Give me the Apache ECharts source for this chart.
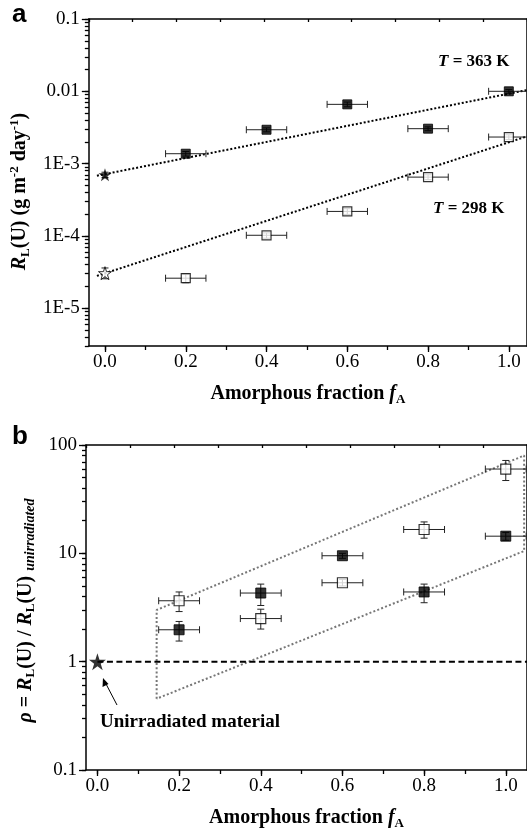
<!DOCTYPE html>
<html><head><meta charset="utf-8">
<script src="https://cdn.jsdelivr.net/npm/echarts@6/dist/echarts.min.js"></script>
<style>html,body{margin:0;padding:0;background:#fff}#c{width:527px;height:831px}</style>
</head><body><div id="c"></div><script>
// ---------- data ----------
const fracA = [0.2, 0.4, 0.6, 0.8, 1.0];
const xErr = 0.05;
// panel a : leaching rate R_L(U)
const rate363 = [1.37e-3, 2.94e-3, 6.6e-3, 3.04e-3, 1.0e-2];
const rate363Lo = [1.27e-3, 2.75e-3, 6.1e-3, 2.85e-3, 0.94e-2];
const rate363Hi = [1.47e-3, 3.12e-3, 7.1e-3, 3.22e-3, 1.06e-2];
const rate298 = [2.6e-5, 1.02e-4, 2.18e-4, 6.5e-4, 2.33e-3];
const rate298Lo = [2.25e-5, 0.93e-4, 1.98e-4, 6.0e-4, 2.15e-3];
const rate298Hi = [2.95e-5, 1.1e-4, 2.38e-4, 7.0e-4, 2.5e-3];
const unirr363 = 7.0e-4, unirr363Lo = 6.4e-4, unirr363Hi = 7.6e-4;
const unirr298 = 3.05e-5, unirr298Lo = 2.55e-5, unirr298Hi = 3.6e-5;
const fit363X = [-0.02, 1.045], fit363Y = [6.8e-4, 1.04e-2];
const fit298X = [-0.02, 1.045], fit298Y = [2.8e-5, 2.38e-3];
const aTickLabels = ['1E-5', '1E-4', '1E-3', '0.01', '0.1'];
const aTickValues = [1e-5, 1e-4, 1e-3, 1e-2, 1e-1];
// panel b : rho
const rhoOpen = [3.65, 2.5, 5.35, 16.6, 60];
const rhoOpenLo = [2.9, 2.0, 5.0, 13.8, 47];
const rhoOpenHi = [4.4, 3.05, 5.75, 19.5, 72];
const rhoFilled = [1.97, 4.3, 9.5, 4.4, 14.4];
const rhoFilledLo = [1.55, 3.3, 9.0, 3.5, 13.2];
const rhoFilledHi = [2.35, 5.2, 10.0, 5.2, 15.6];
const envX = [0.145, 0.145, 1.045, 1.045, 0.145];
const envY = [0.455, 3.0, 80, 10.5, 0.455];
const refX = [0, 1.06], refY = [1, 1];
const bTickLabels = ['0.1', '1', '10', '100'];
const bTickValues = [0.1, 1, 10, 100];
const xTickValues = [0, 0.2, 0.4, 0.6, 0.8, 1.0];
const xAllTicks = [0, 0.1, 0.2, 0.3, 0.4, 0.5, 0.6, 0.7, 0.8, 0.9, 1.0];
const topTicks = [0, 0.1, 0.2, 0.3, 0.4, 0.5, 0.6, 0.7, 0.8, 0.9, 1.0];

// ---------- helpers ----------
const L = Math.log10;
const serif = 'Liberation Serif';
function logTicks(lo, hi) {
  const out = [];
  for (let d = Math.floor(L(lo)); d <= Math.ceil(L(hi)); d++) {
    for (let m = 1; m <= 9; m++) {
      const v = m * Math.pow(10, d);
      if (v >= lo * 0.9999 && v <= hi * 1.0001) out.push(L(v));
    }
  }
  return out;
}
function errRender(params, api) {
  const x = api.value(0), y = api.value(1);
  const xl = api.value(2), xh = api.value(3), yl = api.value(4), yh = api.value(5);
  const st = { stroke: '#222', lineWidth: 1 };
  const ch = [];
  const cap = 3.5;
  if (xl !== xh) {
    const a = api.coord([xl, y]), b = api.coord([xh, y]);
    ch.push({ type: 'line', shape: { x1: a[0], y1: a[1], x2: b[0], y2: b[1] }, style: st });
    ch.push({ type: 'line', shape: { x1: a[0], y1: a[1] - cap, x2: a[0], y2: a[1] + cap }, style: st });
    ch.push({ type: 'line', shape: { x1: b[0], y1: b[1] - cap, x2: b[0], y2: b[1] + cap }, style: st });
  }
  if (yl !== yh) {
    const a = api.coord([x, yl]), b = api.coord([x, yh]);
    ch.push({ type: 'line', shape: { x1: a[0], y1: a[1], x2: b[0], y2: b[1] }, style: st });
    ch.push({ type: 'line', shape: { x1: a[0] - cap, y1: a[1], x2: a[0] + cap, y2: a[1] }, style: st });
    ch.push({ type: 'line', shape: { x1: b[0] - cap, y1: b[1], x2: b[0] + cap, y2: b[1] }, style: st });
  }
  return { type: 'group', children: ch };
}
function errData(xs, ys, lo, hi, xe) {
  return xs.map((x, i) => [x, L(ys[i]), x - xe, x + xe, L(lo[i]), L(hi[i])]);
}
const pts = (xs, ys) => xs.map((x, i) => [x, L(ys[i])]);

const aYMin = L(3e-6), aYMax = L(0.1);
const bYMin = L(0.1), bYMax = L(100);

const labelStyle = { fontFamily: serif, fontSize: 19, color: '#000' };
const richBase = {
  n: { fontFamily: serif, fontWeight: 'bold', fontSize: 20, lineHeight: 24, color: '#000' },
  i: { fontFamily: serif, fontWeight: 'bold', fontStyle: 'italic', fontSize: 20, lineHeight: 24, color: '#000' },
  sub: { fontFamily: serif, fontWeight: 'bold', fontSize: 13, lineHeight: 13, verticalAlign: 'bottom', color: '#000' },
  subi: { fontFamily: serif, fontWeight: 'bold', fontStyle: 'italic', fontSize: 14, lineHeight: 14, verticalAlign: 'bottom', color: '#000' },
  sup: { fontFamily: serif, fontWeight: 'bold', fontSize: 13, lineHeight: 13, verticalAlign: 'top', color: '#000' }
};
const axisLineStyle = { show: true, onZero: false, lineStyle: { color: '#000', width: 1.5 } };
const noLine = { show: false, onZero: false };
const tickLine = { color: '#000', width: 1.3 };

function bottomAxes(gi, min, max) {
  return [
    { type: 'value', gridIndex: gi, min: min, max: max, position: 'bottom',
      axisLine: axisLineStyle, splitLine: { show: false },
      axisTick: { show: true, customValues: xAllTicks, length: 4, lineStyle: tickLine },
      axisLabel: { customValues: xTickValues, formatter: v => v.toFixed(1), margin: 7, ...labelStyle },
      name: '{n|Amorphous fraction }{i|f}{sub|A}', nameLocation: 'middle', nameGap: 36,
      nameTextStyle: { rich: richBase } },
    { type: 'value', gridIndex: gi, min: min, max: max, position: 'bottom',
      axisLine: noLine, splitLine: { show: false }, axisLabel: { show: false },
      axisTick: { show: true, customValues: xTickValues, length: 6, lineStyle: tickLine } },
    { type: 'value', gridIndex: gi, min: 0, max: 1, position: 'top',
      axisLine: axisLineStyle, splitLine: { show: false }, axisLabel: { show: false },
      axisTick: { show: true, customValues: topTicks, inside: true, length: 3, lineStyle: tickLine } }
  ];
}
function leftAxes(gi, min, max, vals, labels, nameStr, gap, pad) {
  const lv = vals.map(L);
  return [
    { type: 'value', gridIndex: gi, min: min, max: max, position: 'left',
      axisLine: axisLineStyle, splitLine: { show: false },
      axisTick: { show: true, customValues: logTicks(Math.pow(10, min), Math.pow(10, max)), length: 4, lineStyle: tickLine },
      axisLabel: { customValues: lv, formatter: v => labels[lv.findIndex(t => Math.abs(t - v) < 1e-6)], margin: 9, ...labelStyle },
      name: nameStr, nameLocation: 'middle', nameGap: gap, nameRotate: 90,
      nameTextStyle: { rich: richBase, padding: pad } },
    { type: 'value', gridIndex: gi, min: min, max: max, position: 'left',
      axisLine: noLine, splitLine: { show: false }, axisLabel: { show: false },
      axisTick: { show: true, customValues: lv, length: 7, lineStyle: tickLine } },
    { type: 'value', gridIndex: gi, min: min, max: max, position: 'right',
      axisLine: axisLineStyle, splitLine: { show: false }, axisLabel: { show: false }, axisTick: { show: false } }
  ];
}

const xAxes = [...bottomAxes(0, -0.04, 1.045), ...bottomAxes(1, -0.028, 1.052)];
const yAxes = [
  ...leftAxes(0, aYMin, aYMax, aTickValues, aTickLabels,
    '{i|R}{sub|L}{n|(U) (g m}{sup|-2}{n| day}{sup|-1}{n|)}', 48, [0, 18, 0, 0]),
  ...leftAxes(1, bYMin, bYMax, bTickValues, bTickLabels,
    '{i|ρ}{n| = }{i|R}{sub|L}{n|(U) / }{i|R}{sub|L}{n|(U) }{subi|unirradiated}', 40, [0, 6, 0, 0])
];

const sqFilled = { color: '#000', borderColor: '#000', borderWidth: 1 };
const sqOpen = { color: '#fff', borderColor: '#000', borderWidth: 1.2 };
const starPath = 'path://M50,0 L61.8,35.1 L98.9,35.1 L68.9,56.8 L80.3,91.9 L50,70.2 L19.7,91.9 L31.1,56.8 L1.1,35.1 L38.2,35.1 Z';

const series = [
  // ----- panel a -----
  { type: 'line', xAxisIndex: 0, yAxisIndex: 0, data: pts(fit363X, fit363Y), symbol: 'none',
    lineStyle: { color: '#000', width: 2, type: [2, 2] }, z: 2, silent: true },
  { type: 'line', xAxisIndex: 0, yAxisIndex: 0, data: pts(fit298X, fit298Y), symbol: 'none',
    lineStyle: { color: '#000', width: 2, type: [2, 2] }, z: 2, silent: true },
  { type: 'custom', xAxisIndex: 0, yAxisIndex: 0, renderItem: errRender, z: 3,
    data: errData(fracA, rate363, rate363Lo, rate363Hi, xErr)
      .concat(errData(fracA, rate298, rate298Lo, rate298Hi, xErr))
      .concat(errData([0], [unirr363], [unirr363Lo], [unirr363Hi], 0))
      .concat(errData([0], [unirr298], [unirr298Lo], [unirr298Hi], 0)) },
  { type: 'scatter', xAxisIndex: 0, yAxisIndex: 0, data: pts(fracA, rate363), symbol: 'rect', symbolSize: 9,
    itemStyle: sqFilled, z: 5 },
  { type: 'scatter', xAxisIndex: 0, yAxisIndex: 0, data: pts(fracA, rate298), symbol: 'rect', symbolSize: 9,
    itemStyle: sqOpen, z: 5 },
  { type: 'scatter', xAxisIndex: 0, yAxisIndex: 0, data: pts([0], [unirr363]), symbol: starPath, symbolSize: 13,
    itemStyle: { color: '#000' }, z: 5 },
  { type: 'scatter', xAxisIndex: 0, yAxisIndex: 0, data: pts([0], [unirr298]), symbol: starPath, symbolSize: 13,
    itemStyle: { color: '#fff', borderColor: '#000', borderWidth: 1 }, z: 5 },
  // ----- panel b -----
  { type: 'line', xAxisIndex: 3, yAxisIndex: 3, data: pts(envX, envY), symbol: 'none',
    lineStyle: { color: '#777', width: 2, type: [2, 2.2] }, z: 2, silent: true },
  { type: 'line', xAxisIndex: 3, yAxisIndex: 3, data: pts(refX, refY), symbol: 'none',
    lineStyle: { color: '#000', width: 2, type: [6, 3.5] }, z: 2, silent: true },
  { type: 'custom', xAxisIndex: 3, yAxisIndex: 3, renderItem: errRender, z: 3,
    data: errData(fracA, rhoOpen, rhoOpenLo, rhoOpenHi, xErr)
      .concat(errData(fracA, rhoFilled, rhoFilledLo, rhoFilledHi, xErr)) },
  { type: 'scatter', xAxisIndex: 3, yAxisIndex: 3, data: pts(fracA, rhoFilled), symbol: 'rect', symbolSize: 10,
    itemStyle: sqFilled, z: 5 },
  { type: 'scatter', xAxisIndex: 3, yAxisIndex: 3, data: pts(fracA, rhoOpen), symbol: 'rect', symbolSize: 10,
    itemStyle: sqOpen, z: 5 },
  { type: 'scatter', xAxisIndex: 3, yAxisIndex: 3, data: pts([0], [1]), symbol: starPath, symbolSize: 17,
    itemStyle: { color: '#000' }, z: 6 }
];

const chart = echarts.init(document.getElementById('c'), null, { renderer: 'canvas' });
chart.setOption({
  animation: false,
  backgroundColor: '#fff',
  grid: [
    { left: 88, top: 19, width: 439.5, height: 327 },
    { left: 86, top: 445, width: 441, height: 325 }
  ],
  xAxis: xAxes,
  yAxis: yAxes,
  series: series,
  graphic: [
    { type: 'text', left: 12, top: 2, style: { text: 'a', font: 'bold 26px "Liberation Sans"', fill: '#000' } },
    { type: 'text', left: 12, top: 424, style: { text: 'b', font: 'bold 26px "Liberation Sans"', fill: '#000' } },
    { type: 'text', left: 438, top: 53, style: { text: '{i|T}{n| = 363 K}',
      rich: { i: { fontFamily: serif, fontWeight: 'bold', fontStyle: 'italic', fontSize: 17 },
              n: { fontFamily: serif, fontWeight: 'bold', fontSize: 17 } } } },
    { type: 'text', left: 433, top: 200, style: { text: '{i|T}{n| = 298 K}',
      rich: { i: { fontFamily: serif, fontWeight: 'bold', fontStyle: 'italic', fontSize: 17 },
              n: { fontFamily: serif, fontWeight: 'bold', fontSize: 17 } } } },
    { type: 'text', left: 100, top: 713, style: { text: 'Unirradiated material', font: 'bold 19px "Liberation Serif"', fill: '#000' } },
    { type: 'line', shape: { x1: 117, y1: 705, x2: 105, y2: 682 }, style: { stroke: '#000', lineWidth: 1 } },
    { type: 'polygon', shape: { points: [[103, 678], [102.5, 687], [108.5, 684]] }, style: { fill: '#000' } }
  ]
});
</script></body></html>
